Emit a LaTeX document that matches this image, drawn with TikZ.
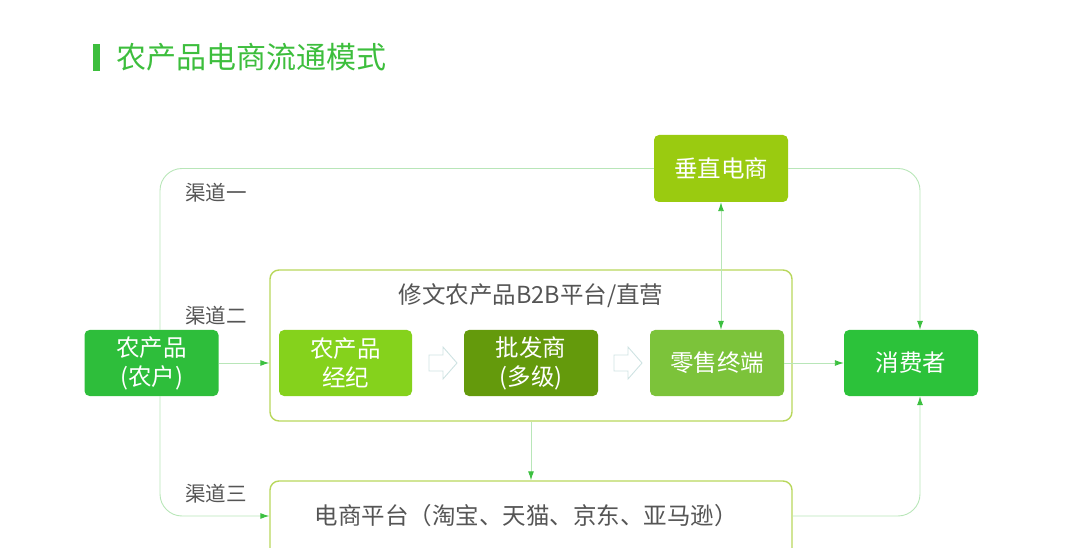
\documentclass[tikz,border=0pt]{standalone}
\usepackage{fontspec}
\setmainfont{Noto Sans CJK SC}
\usetikzlibrary{arrows.meta}
\definecolor{titleg}{HTML}{3DBE3D}
\definecolor{farmc}{HTML}{2EBE3B}
\definecolor{brokc}{HTML}{85D21C}
\definecolor{wholc}{HTML}{649A0C}
\definecolor{retac}{HTML}{7CC33A}
\definecolor{consc}{HTML}{2CC23A}
\definecolor{vertc}{HTML}{9ACB10}
\definecolor{bigb}{HTML}{B8D75C}
\definecolor{lineg}{HTML}{B8E6B8}
\definecolor{arrg}{HTML}{3CC040}
\definecolor{txtg}{HTML}{555555}
\definecolor{hollow}{HTML}{CFE3E3}
\begin{document}
\begin{tikzpicture}[x=1pt,y=-1pt,
  box/.style={rounded corners=5pt, minimum width=134pt, minimum height=66pt, text=white,
    font=\fontsize{23.5}{29}\selectfont, align=center, inner sep=0pt},
  con/.style={draw=lineg, line width=0.9pt},
  tip/.style={-{Latex[length=9pt,width=6pt,color=arrg]}},
  dtip/.style={{Latex[length=9pt,width=6pt,color=arrg]}-{Latex[length=9pt,width=6pt,color=arrg]}},
  frame/.style={draw=bigb, line width=1.4pt, rounded corners=9pt, inner sep=0pt},
  lab/.style={text=txtg, font=\fontsize{20.5}{22}\selectfont, inner sep=0pt},
  hol/.style={draw=hollow, fill=white, line width=0.9pt, line join=miter}
]
\useasboundingbox (0,0) rectangle (1080,548);
\clip (0,0) rectangle (1080,548);

% title
\fill[titleg] (93,44) rectangle (100,71);
\node[anchor=west, text=titleg, font=\fontsize{30}{33}\selectfont, inner sep=0pt] (title) at (116,57) {农产品电商流通模式};

% frames
\node[frame, minimum width=522pt, minimum height=151pt] (plat) at (531,345.5) {};
\node[text=txtg, font=\fontsize{23.5}{26}\selectfont, inner sep=0pt] (plattitle) at (531,296) {修文农产品B2B平台/直营};
\node[frame, minimum width=522pt, minimum height=90pt] (ecom) at (531,526) {};
\node[text=txtg, font=\fontsize{23.5}{26}\selectfont, inner sep=0pt] (ecomtext) at (526,516) {电商平台（淘宝、天猫、京东、亚马逊）};

% boxes
\node[box, fill=farmc] (farm) at (151.5,363) {农产品\\(农户)};
\node[box, fill=brokc, minimum width=133pt] (brok) at (345.5,363) {农产品\\经纪};
\node[box, fill=wholc] (whol) at (531,363) {批发商\\(多级)};
\node[box, fill=retac] (reta) at (717,363) {零售终端};
\node[box, fill=consc] (cons) at (911,363) {消费者};
\node[box, fill=vertc, minimum height=67pt] (vert) at (721,168.5) {垂直电商};

% labels
\node[lab] (c1) at (216,193) {渠道一};
\node[lab] (c2) at (216,316) {渠道二};
\node[lab] (c3) at (216,494) {渠道三};

% hollow block arrows
\foreach \cx in {443,628}{
  \draw[hol] (\cx-14,355) -- (\cx,355) -- (\cx,347) -- (\cx+14,363) -- (\cx,379) -- (\cx,371) -- (\cx-14,371) -- cycle;
}

% connectors
\draw[con, rounded corners=22pt] ([xshift=8.5pt]farm.north) |- (vert.west);
\draw[con, rounded corners=22pt, tip] (vert.east) -| ([xshift=9pt]cons.north);
\draw[con, rounded corners=22pt, tip] ([xshift=8.5pt]farm.south) |- ([yshift=10pt]ecom.west);
\draw[con, rounded corners=22pt, tip] ([yshift=10pt]ecom.east) -| ([xshift=9pt]cons.south);
\draw[con, tip] (farm.east) -- (farm.east -| plat.west);
\draw[con, tip] (reta.east) -- (cons.west);
\draw[con, dtip] (vert.south) -- (vert.south |- reta.north);
\draw[con, tip] (plat.south) -- (ecom.north);
\end{tikzpicture}
\end{document}
